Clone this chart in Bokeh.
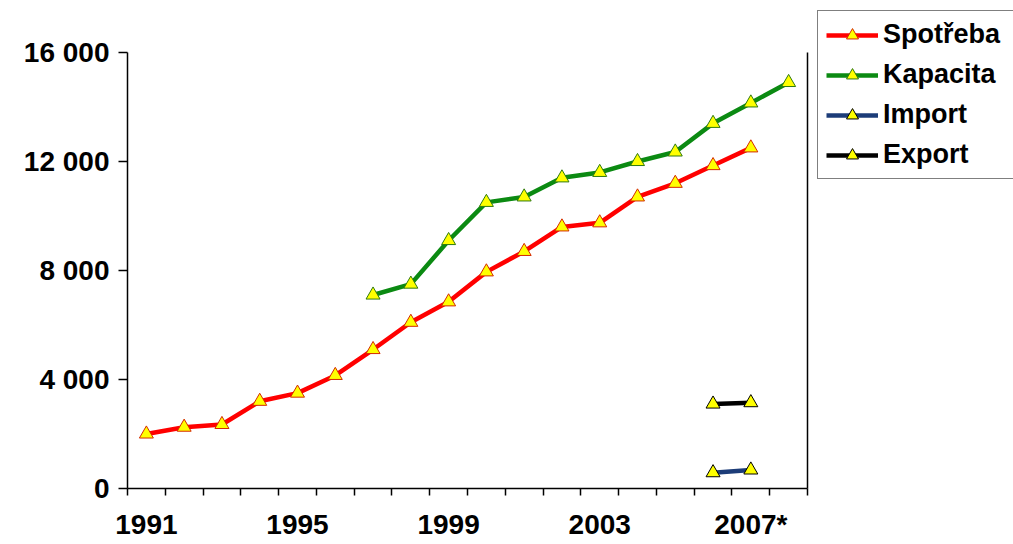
from bokeh.plotting import figure
from bokeh.layouts import row
from bokeh.models import (Range1d, FixedTicker, LinearAxis, Legend, LegendItem)
from bokeh.embed import file_html
from bokeh.resources import INLINE

# Annual values (MW)
spotreba_years = list(range(1991, 2008))
spotreba = [2000, 2250, 2350, 3200, 3500, 4150, 5100, 6100, 6850, 7950,
            8700, 9600, 9750, 10700, 11200, 11850, 12500]

kapacita_years = list(range(1997, 2009))
kapacita = [7100, 7500, 9100, 10500, 10700, 11400, 11600, 12000, 12350,
            13400, 14150, 14900]

import_years = [2006, 2007]
import_vals = [580, 680]

export_years = [2006, 2007]
export_vals = [3100, 3150]

x_labels = {1991: "1991", 1995: "1995", 1999: "1999", 2003: "2003", 2007: "2007*"}
y_ticks = [0, 4000, 8000, 12000, 16000]
y_labels = {0: "0", 4000: "4 000", 8000: "8 000", 12000: "12 000", 16000: "16 000"}

FONT = "Liberation Sans"

# pixel layout: frame runs from y=TOP to y=BOTTOM, the 16 000 line sits at y=GRID_TOP
TOP, GRID_TOP, BOTTOM = 2, 52, 488
y_max = y_ticks[-1]
y_top = y_max * (BOTTOM - TOP) / (BOTTOM - GRID_TOP)

p = figure(width=812, height=544, output_backend="svg", toolbar_location=None,
           x_range=Range1d(1990.5, 2008.5), y_range=Range1d(0, y_top),
           x_axis_type=None, y_axis_type=None,
           min_border_left=127, min_border_right=5,
           min_border_top=TOP, min_border_bottom=544 - BOTTOM)
p.background_fill_color = "white"
p.border_fill_color = "white"
p.outline_line_color = None

# x axis: tick marks between categories, labels at category centres
xaxis = LinearAxis(ticker=FixedTicker(ticks=list(x_labels.keys()),
                                      minor_ticks=[y + 0.5 for y in range(1990, 2009)]),
                   major_label_overrides=x_labels)
xaxis.major_tick_in = 0
xaxis.major_tick_out = 0
xaxis.minor_tick_in = 0
xaxis.minor_tick_out = 7
xaxis.minor_tick_line_color = "black"
xaxis.minor_tick_line_width = 1.5
xaxis.axis_line_color = "black"
xaxis.axis_line_width = 1.5
xaxis.major_label_standoff = 13
xaxis.major_label_text_font = FONT
xaxis.major_label_text_font_style = "bold"
xaxis.major_label_text_font_size = "28px"
xaxis.major_label_text_color = "black"
p.add_layout(xaxis, "below")

yaxis = LinearAxis(ticker=FixedTicker(ticks=y_ticks), major_label_overrides=y_labels,
                   bounds=(0, y_max))
yaxis.major_tick_in = 0
yaxis.major_tick_out = 9
yaxis.major_tick_line_color = "black"
yaxis.major_tick_line_width = 1.5
yaxis.minor_tick_out = 0
yaxis.minor_tick_in = 0
yaxis.axis_line_color = "black"
yaxis.axis_line_width = 1.5
yaxis.major_label_standoff = 9
yaxis.major_label_text_font = FONT
yaxis.major_label_text_font_style = "bold"
yaxis.major_label_text_font_size = "28px"
yaxis.major_label_text_color = "black"
p.add_layout(yaxis, "left")

# right-hand border of the plot area
rborder = LinearAxis(ticker=FixedTicker(ticks=[]), bounds=(0, y_max))
rborder.major_tick_out = 0
rborder.major_tick_in = 0
rborder.minor_tick_out = 0
rborder.minor_tick_in = 0
rborder.major_label_standoff = 0
rborder.major_label_text_font_size = "0px"
rborder.axis_line_color = "black"
rborder.axis_line_width = 1.5
p.add_layout(rborder, "right")

p.ygrid.ticker = FixedTicker(ticks=y_ticks)
p.ygrid.grid_line_color = "black"
p.ygrid.grid_line_width = 1.5
p.xgrid.grid_line_color = None

series = [
    ("Spotřeba", spotreba_years, spotreba, "#FF0000", "#D42A00"),
    ("Kapacita", kapacita_years, kapacita, "#0B8A12", "#2E7A10"),
    ("Import", import_years, import_vals, "#1C3C78", "#000000"),
    ("Export", export_years, export_vals, "#000000", "#000000"),
]

# legend panel to the right of the chart
lg = figure(width=201, height=544, output_backend="svg", toolbar_location=None,
            x_range=Range1d(0, 1), y_range=Range1d(0, 1),
            x_axis_type=None, y_axis_type=None,
            min_border_left=0, min_border_right=0,
            min_border_top=TOP, min_border_bottom=544 - BOTTOM)
lg.outline_line_color = None
lg.background_fill_color = "white"
lg.border_fill_color = "white"
lg.xgrid.grid_line_color = None
lg.ygrid.grid_line_color = None

items = []
for name, xs, ys, color, edge in series:
    line_style = dict(line_color=color, line_width=4.5)
    marker_style = dict(marker="triangle", size=14, fill_color="#FFFF00",
                        line_color=edge, line_width=1)
    p.line(xs, ys, **line_style)
    p.scatter(xs, ys, **marker_style)
    # same series in the legend panel; its ranges keep them out of view
    ln = lg.line(xs, ys, **line_style)
    mk = lg.scatter(xs, ys, **marker_style)
    items.append(LegendItem(label=name, renderers=[ln, mk]))

legend = Legend(items=items, location=(5, 309))
legend.border_line_color = "black"
legend.border_line_width = 1.5
legend.background_fill_color = "white"
legend.background_fill_alpha = 1
legend.label_text_font = FONT
legend.label_text_font_style = "bold"
legend.label_text_font_size = "27px"
legend.label_text_color = "black"
legend.glyph_width = 52
legend.glyph_height = 30
legend.label_height = 30
legend.label_width = 125
legend.label_standoff = 5
legend.spacing = 9
legend.padding = 8
legend.margin = 0
lg.add_layout(legend, "center")

layout = row(p, lg, spacing=0)
open("out.html", "w").write(file_html(layout, INLINE))
